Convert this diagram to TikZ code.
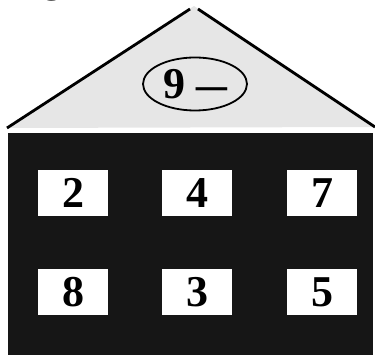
\documentclass[tikz,border=0pt]{standalone}
\usepackage{fontspec}
\setmainfont{Liberation Serif}
\usetikzlibrary{shapes.geometric}
\definecolor{roofgray}{HTML}{E6E6E6}
\definecolor{wallblack}{HTML}{161616}

\begin{document}
\begin{tikzpicture}[x=1pt,y=-1pt,
  digit/.style={font=\fontsize{44}{44}\selectfont\bfseries},
  window/.style={digit,fill=white,minimum width=70pt,minimum height=46pt,inner sep=0pt},
  roofline/.style={line width=2.8pt}]
  \useasboundingbox (0,0) rectangle (375,355);
  % cut-off letter of the line above
  \node[anchor=base,inner sep=0pt,font=\fontsize{40}{40}\selectfont] (gtail) at (52,-7) {g};
  % roof
  \coordinate (eaveL) at (7,128);
  \coordinate (apexL) at (190,9);
  \coordinate (apexR) at (198,9);
  \coordinate (eaveR) at (375,127);
  \fill[roofgray] (eaveL) -- (194,6) -- (eaveR) -- cycle;
  \draw[roofline] (eaveL) -- (apexL);
  \draw[roofline] (apexR) -- (eaveR);
  \node[digit,draw,ellipse,line width=1.8pt,minimum width=104pt,minimum height=53pt,inner sep=0pt] (badge) at (195,84) {9~\raisebox{-1pt}{\scalebox{1.4}[1]{–}}};
  % wall
  \fill[wallblack] (8,133) rectangle (373,355);
  \node[window] (win2) at (73,193) {2};
  \node[window] (win4) at (197,193) {4};
  \node[window] (win7) at (322,193) {7};
  \node[window] (win8) at (73,292) {8};
  \node[window] (win3) at (197,292) {3};
  \node[window] (win5) at (322,292) {5};
\end{tikzpicture}
\end{document}
